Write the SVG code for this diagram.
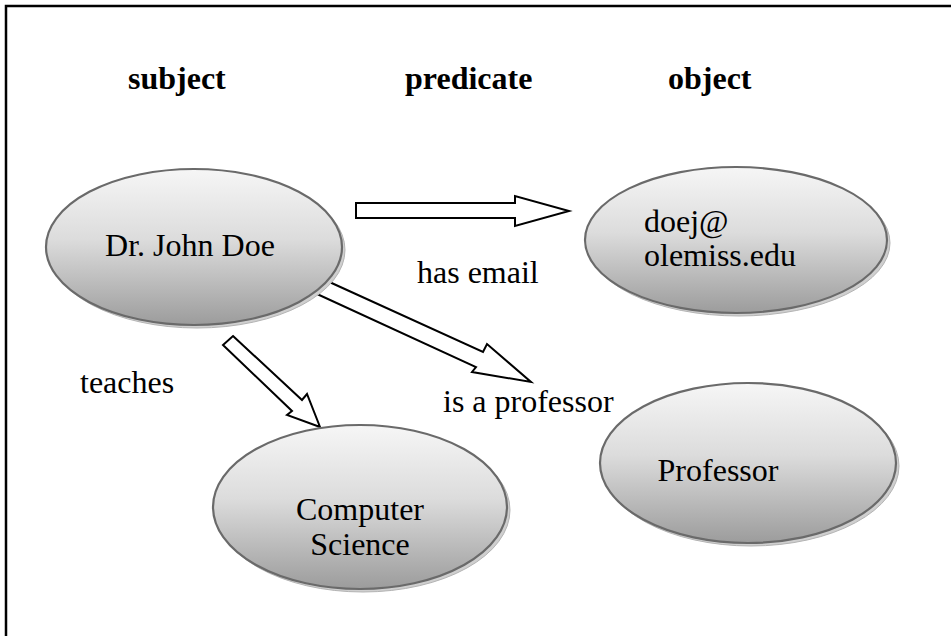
<svg xmlns="http://www.w3.org/2000/svg" width="951" height="636" viewBox="0 0 951 636">
  <defs>
    <linearGradient id="nodeFill" x1="0" y1="0" x2="0" y2="1">
      <stop offset="0" stop-color="#f6f6f6"/>
      <stop offset="0.45" stop-color="#dcdcdc"/>
      <stop offset="1" stop-color="#9c9c9c"/>
    </linearGradient>
    <style>
      .frame { fill: none; stroke: #000; stroke-width: 2.5; }
      .shadow { fill: #cfcfcf; stroke: #b4b4b4; stroke-width: 1; }
      .node { fill: url(#nodeFill); stroke: #6a6a6a; stroke-width: 2.2; }
      .label { font-family: "Liberation Serif", "Times New Roman", serif; font-size: 32px; fill: #000; }
      .head { font-family: "Liberation Serif", "Times New Roman", serif; font-size: 32px; font-weight: bold; fill: #000; }
      .arrow { fill: #fff; stroke: #000; stroke-width: 2; stroke-linejoin: miter; }
    </style>
  </defs>

  <rect width="951" height="636" fill="#fff"/>
  <!-- outer frame (open at right and bottom) -->
  <path class="frame" d="M6,640 V6 H955"/>

  <!-- column headings -->
  <g id="headings">
    <text class="head" x="128" y="89">subject</text>
    <text class="head" x="405" y="89">predicate</text>
    <text class="head" x="668" y="89">object</text>
  </g>

  <!-- connectors -->
  <g id="connectors">
    <polygon class="arrow" points="356,203 515,203 515,196 569,211 515,226 515,218 356,218"/>
    <polygon class="arrow" points="325,280 483,352 487,344 531,382 472,372 476,367 317,294"/>
    <polygon class="arrow" points="233,336 302,400 307,394 320,427 287,415 292,411 223,345"/>
    <text class="label" x="417" y="283">has email</text>
    <text class="label" x="443" y="412">is a professor</text>
    <text class="label" x="80" y="393">teaches</text>
  </g>

  <g id="node-john">
    <ellipse class="shadow" cx="197" cy="250" rx="148" ry="78"/>
    <ellipse class="node" cx="194" cy="247" rx="148" ry="78"/>
    <text class="label" x="190" y="256" text-anchor="middle">Dr. John Doe</text>
  </g>

  <g id="node-email">
    <ellipse class="shadow" cx="739" cy="243" rx="151" ry="73"/>
    <ellipse class="node" cx="736" cy="240" rx="151" ry="73"/>
    <text class="label" x="644" y="232">doej@</text>
    <text class="label" x="644" y="266">olemiss.edu</text>
  </g>

  <g id="node-professor">
    <ellipse class="shadow" cx="751" cy="466" rx="148" ry="80"/>
    <ellipse class="node" cx="748" cy="463" rx="148" ry="80"/>
    <text class="label" x="718" y="481" text-anchor="middle">Professor</text>
  </g>

  <g id="node-cs">
    <ellipse class="shadow" cx="363" cy="510" rx="147" ry="82"/>
    <ellipse class="node" cx="360" cy="507" rx="147" ry="82"/>
    <text class="label" x="360" y="520" text-anchor="middle">Computer</text>
    <text class="label" x="360" y="555" text-anchor="middle">Science</text>
  </g>
</svg>
